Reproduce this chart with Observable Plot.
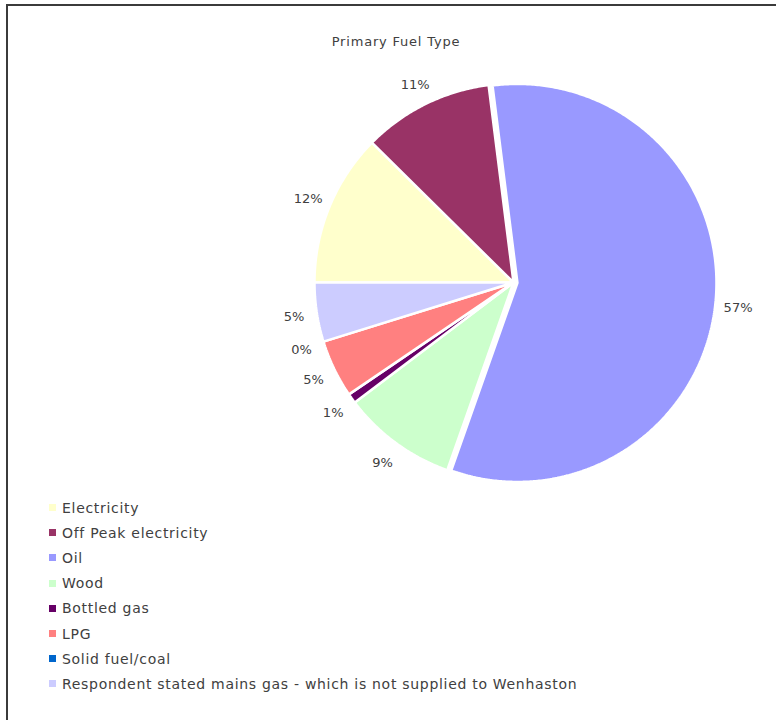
<!DOCTYPE html>
<html>
<head>
<meta charset="utf-8">
<script src="https://cdn.jsdelivr.net/npm/d3@7"></script>
<script src="https://cdn.jsdelivr.net/npm/@observablehq/plot@0.6"></script>
<style>
  html, body { margin: 0; padding: 0; background: #fff; }
  body { width: 776px; height: 720px; position: relative; overflow: hidden; font-family: "DejaVu Sans", sans-serif; color: #404040; }
  #frame { position: absolute; left: 6px; top: 4px; width: 900px; height: 900px; border-top: 2px solid #3b3b3b; border-left: 2px solid #3b3b3b; }
  #title { position: absolute; left: 0; width: 792px; top: 34px; text-align: center; font-size: 13px; letter-spacing: 0.8px; color: #404040; }
  #chart { position: absolute; left: 0; top: 0; }
  #legend { position: absolute; left: 49px; top: 495px; font-size: 14px; letter-spacing: 0.7px; color: #404040; }
  .item { height: 25.2px; display: flex; align-items: center; }
  .sw { width: 7px; height: 7px; margin-right: 6px; flex: none; }
</style>
</head>
<body>
<div id="frame"></div>
<div id="title">Primary Fuel Type</div>
<div id="chart"></div>
<div id="legend"></div>
<script>
const categories = ["Electricity", "Off Peak electricity", "Oil", "Wood", "Bottled gas", "LPG", "Solid fuel/coal", "Respondent stated mains gas - which is not supplied to Wenhaston"];
const shares = [12.4, 10.6, 57.4, 9.3, 0.8, 4.7, 0.0, 4.8];
const labels = ["12%", "11%", "57%", "9%", "1%", "5%", "0%", "5%"];
const colors = ["#FFFFCC", "#993366", "#9999FF", "#CCFFCC", "#660066", "#FF8080", "#0066CC", "#CCCCFF"];
const exploded = ["Oil"];

const startDeg = 270; // first slice angle, clockwise from 12 o'clock
const total = d3.sum(shares);
const slices = [];
let acc = startDeg;
categories.forEach((c, i) => {
  const a0 = acc, a1 = acc + shares[i] / total * 360;
  acc = a1;
  slices.push({cat: c, a0, a1, mid: (a0 + a1) / 2, label: labels[i], value: shares[i]});
});
const rad = d => d * Math.PI / 180;

const polyPts = [];
for (const s of slices) {
  if (s.value <= 0) continue;
  const off = exploded.includes(s.cat) ? 0.02 : 0;
  const ox = off * Math.sin(rad(s.mid)), oy = off * Math.cos(rad(s.mid));
  polyPts.push({cat: s.cat, x: ox, y: oy});
  const n = Math.max(2, Math.ceil((s.a1 - s.a0) / 0.5));
  for (let k = 0; k <= n; k++) {
    const a = rad(s.a0 + (s.a1 - s.a0) * k / n);
    polyPts.push({cat: s.cat, x: ox + Math.sin(a), y: oy + Math.cos(a)});
  }
}

const labelR = 1.115;
const labelPts = slices.map(s => {
  const off = exploded.includes(s.cat) ? 0.02 : 0;
  return {cat: s.cat, text: s.label, x: (labelR + off) * Math.sin(rad(s.mid)), y: (labelR + off) * Math.cos(rad(s.mid))};
});

const plot = Plot.plot({
  width: 776,
  height: 490,
  margin: 0,
  style: {background: "transparent", fontFamily: "DejaVu Sans, sans-serif", fontSize: "13px"},
  x: {domain: [-1, 1], range: [314, 712], axis: null},
  y: {domain: [-1, 1], range: [481, 83], axis: null},
  color: {domain: categories, range: colors},
  marks: [
    Plot.line(polyPts, {x: "x", y: "y", z: "cat", fill: "cat", stroke: "white", strokeWidth: 2.5, curve: "linear-closed", strokeLinejoin: "miter"}),
    Plot.text(labelPts, {x: "x", y: "y", text: "text", fill: "#404040", fontSize: 13, dy: 1})
  ]
});
document.getElementById("chart").appendChild(plot);

const colorScale = plot.scale("color");
const legend = document.getElementById("legend");
categories.forEach((c, i) => {
  const row = document.createElement("div");
  row.className = "item";
  const sw = document.createElement("span");
  sw.className = "sw";
  sw.style.background = colorScale.apply(c);
  const t = document.createElement("span");
  t.textContent = c;
  row.appendChild(sw);
  row.appendChild(t);
  legend.appendChild(row);
});
</script>
</body>
</html>
